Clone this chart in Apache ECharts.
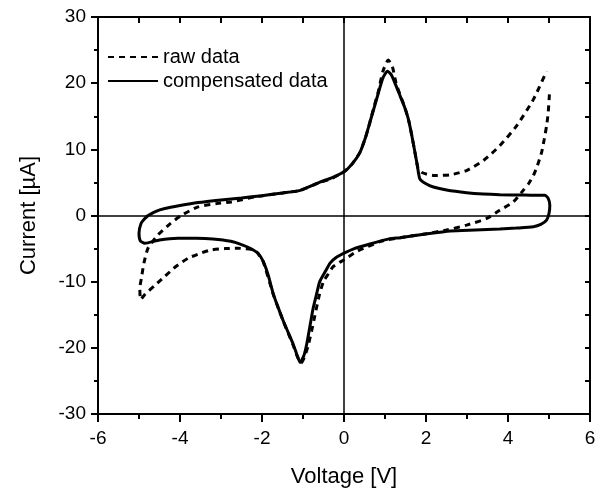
<!DOCTYPE html>
<html>
<head>
<meta charset="utf-8">
<script src="https://cdn.jsdelivr.net/npm/echarts@6/dist/echarts.min.js"></script>
<style>
html,body{margin:0;padding:0;background:#fff;}
#chart{width:607px;height:493px;}
</style>
</head>
<body>
<div id="chart"></div>
<script>
// Axis ticks
var xTicks = [-6, -4, -2, 0, 2, 4, 6];
var yTicks = [-30, -20, -10, 0, 10, 20, 30];

// Series names
var seriesNames = ['raw data', 'compensated data'];

// Raw data: voltage [V]
var rawV = [5.01, 4.98, 4.94, 4.88, 4.82, 4.72, 4.62, 4.5, 4.37, 4.13, 3.8, 3.48, 2.99, 2.5, 2.0, 1.37, 0.9, 0.31, 0, -0.26, -0.38, -0.5, -0.6, -0.67, -0.73, -0.79, -0.88, -0.97, -1.05, -1.14, -1.24, -1.48, -1.72, -1.97, -2.1, -2.2, -2.59, -2.9, -3.24, -3.5, -3.8, -4.1, -4.37, -4.6, -4.86, -4.96, -4.98, -4.94, -4.88, -4.78, -4.54, -4.25, -3.97, -3.56, -3.1, -2.75, -2.18, -1.5, -1.07, -0.59, -0.3, 0, 0.2, 0.39, 0.52, 0.63, 0.74, 0.84, 0.95, 1.08, 1.18, 1.27, 1.37, 1.47, 1.57, 1.65, 1.73, 1.8, 1.9, 2.18, 2.59, 2.99, 3.4, 3.8, 4.21, 4.62, 4.94];
// Raw data: current [µA]
var rawI = [18.3, 15.5, 13.5, 11.4, 9.55, 7.6, 6.05, 4.8, 3.8, 2.05, 0.8, -0.45, -1.45, -2.2, -2.75, -3.35, -3.9, -5.45, -6.7, -7.7, -8.8, -9.95, -12.0, -13.95, -15.7, -17.45, -19.8, -21.5, -22.3, -21.3, -19.6, -16.0, -12.0, -7.0, -5.7, -5.2, -4.95, -5.0, -5.2, -5.7, -6.45, -7.7, -9.2, -10.5, -11.95, -12.7, -10.95, -9.45, -7.2, -4.95, -2.95, -1.3, 0, 1.3, 1.8, 2.05, 2.8, 3.4, 3.8, 5.0, 5.6, 6.6, 7.8, 9.55, 11.7, 14.05, 16.6, 18.8, 21.8, 23.5, 22.5, 20.0, 18.2, 16.6, 14.55, 12.2, 9.55, 7.3, 6.5, 6.05, 6.15, 6.8, 8.3, 10.55, 13.55, 17.55, 21.8];

// Compensated data: voltage [V]
var compV = [-4.78, -4.6, -4.37, -4.0, -3.56, -3.0, -2.5, -2.0, -1.5, -1.07, -0.59, -0.3, 0, 0.2, 0.39, 0.52, 0.63, 0.74, 0.84, 0.95, 1.06, 1.15, 1.27, 1.37, 1.47, 1.57, 1.65, 1.73, 1.79, 1.85, 2.0, 2.18, 2.5, 2.99, 3.4, 3.8, 4.4, 4.9, 4.98, 5.02, 5.0, 4.94, 4.8, 4.62, 4.2, 3.8, 3.2, 2.59, 2.0, 1.37, 1.12, 0.55, 0.25, 0, -0.2, -0.34, -0.45, -0.59, -0.67, -0.75, -0.83, -0.91, -0.98, -1.07, -1.15, -1.24, -1.36, -1.48, -1.6, -1.72, -1.85, -1.97, -2.1, -2.29, -2.5, -2.76, -3.2, -3.6, -4.05, -4.5, -4.86, -4.97, -5.0, -4.95, -4.85, -4.78];
// Compensated data: current [µA]
var compI = [0, 0.6, 1.05, 1.5, 1.95, 2.35, 2.65, 3.0, 3.4, 3.8, 5.05, 5.7, 6.6, 7.8, 9.55, 11.7, 14.05, 16.4, 18.55, 20.8, 21.8, 21.3, 19.6, 18.05, 16.5, 14.55, 12.2, 9.55, 7.5, 5.55, 4.8, 4.3, 3.85, 3.45, 3.25, 3.15, 3.08, 3.05, 2.6, 1.55, 0.3, -0.7, -1.35, -1.7, -1.9, -2.05, -2.2, -2.35, -2.8, -3.35, -3.5, -4.45, -5.0, -5.7, -6.4, -7.2, -8.4, -9.95, -11.9, -13.95, -16.7, -19.45, -21.2, -22.2, -21.0, -19.45, -17.7, -15.95, -14.0, -11.95, -9.0, -6.95, -5.7, -4.95, -4.4, -3.9, -3.55, -3.45, -3.45, -3.7, -4.2, -3.8, -2.7, -1.2, -0.4, 0];

function pairs(xs, ys) {
  var out = [];
  for (var i = 0; i < xs.length; i++) out.push([xs[i], ys[i]]);
  return out;
}

var FONT = 'Liberation Sans, Arial, sans-serif';
var chart = echarts.init(document.getElementById('chart'), null, {renderer: 'canvas'});

chart.setOption({
  animation: false,
  backgroundColor: '#ffffff',
  grid: {left: 98, right: 17, top: 17, bottom: 76, show: false},
  legend: {
    left: 102, top: 42, orient: 'vertical', itemGap: 4,
    itemWidth: 50, itemHeight: 14,
    itemStyle: {opacity: 0},
    textStyle: {fontFamily: FONT, fontSize: 20, color: '#000'},
    data: seriesNames
  },
  xAxis: [{
    type: 'value', position: 'bottom', min: xTicks[0], max: xTicks[xTicks.length - 1],
    interval: xTicks[1] - xTicks[0],
    name: 'Voltage [V]', nameLocation: 'middle', nameGap: 52,
    nameTextStyle: {fontFamily: FONT, fontSize: 22, color: '#000'},
    axisLine: {show: true, onZero: false, lineStyle: {color: '#000', width: 2}},
    axisTick: {show: true, inside: false, length: 8, lineStyle: {color: '#000', width: 2}},
    minorTick: {show: true, splitNumber: 2, length: 5, lineStyle: {color: '#000', width: 2}},
    axisLabel: {fontFamily: FONT, fontSize: 19, color: '#000', margin: 15},
    splitLine: {show: false}
  }, {
    type: 'value', position: 'top', min: xTicks[0], max: xTicks[xTicks.length - 1],
    interval: 1,
    axisLine: {show: true, onZero: false, lineStyle: {color: '#000', width: 2}},
    axisTick: {show: true, inside: true, length: 6, lineStyle: {color: '#000', width: 2}},
    axisLabel: {show: false},
    splitLine: {show: false}
  }],
  yAxis: [{
    type: 'value', position: 'left', min: yTicks[0], max: yTicks[yTicks.length - 1],
    interval: yTicks[1] - yTicks[0],
    name: 'Current [µA]', nameLocation: 'middle', nameGap: 58,
    nameTextStyle: {fontFamily: FONT, fontSize: 22, color: '#000'},
    axisLine: {show: true, onZero: false, lineStyle: {color: '#000', width: 2}},
    axisTick: {show: true, inside: false, length: 7, lineStyle: {color: '#000', width: 2}},
    minorTick: {show: true, splitNumber: 2, length: 4, lineStyle: {color: '#000', width: 2}},
    axisLabel: {fontFamily: FONT, fontSize: 19, color: '#000', margin: 12},
    splitLine: {show: false}
  }, {
    type: 'value', position: 'right', min: yTicks[0], max: yTicks[yTicks.length - 1],
    interval: 5,
    axisLine: {show: true, onZero: false, lineStyle: {color: '#000', width: 2}},
    axisTick: {show: true, inside: true, length: 5, lineStyle: {color: '#000', width: 2}},
    axisLabel: {show: false},
    splitLine: {show: false}
  }],
  series: [{
    name: seriesNames[0], type: 'line', xAxisIndex: 0, yAxisIndex: 0,
    data: pairs(rawV, rawI), symbol: 'none', smooth: 0.2,
    lineStyle: {color: '#000', width: 3, type: [6, 5]},
    itemStyle: {color: '#000'}
  }, {
    name: seriesNames[1], type: 'line', xAxisIndex: 0, yAxisIndex: 0,
    data: pairs(compV, compI), symbol: 'none', smooth: 0.2,
    lineStyle: {color: '#000', width: 3, type: 'solid'},
    itemStyle: {color: '#000'},
    markLine: {
      silent: true, symbol: 'none', animation: false,
      label: {show: false},
      lineStyle: {color: '#000', width: 1.5, type: 'solid'},
      data: [{xAxis: 0}, {yAxis: 0}]
    }
  }]
});
</script>
</body>
</html>
